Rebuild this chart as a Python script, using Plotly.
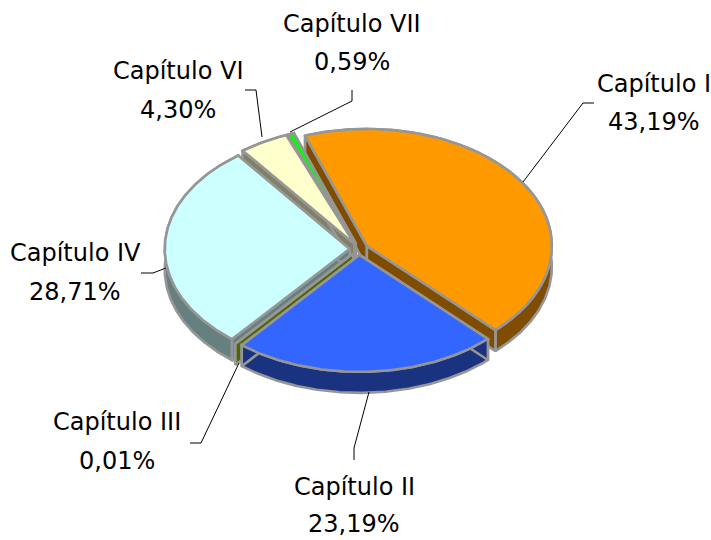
import numpy as np
import plotly.graph_objects as go

chapters = ["Capítulo I", "Capítulo II", "Capítulo III", "Capítulo IV", "Capítulo VI", "Capítulo VII"]
shares = [43.19, 23.19, 0.01, 28.71, 4.30, 0.59]
top_colors = ["#FF9900", "#3366FF", "#99CC00", "#CCFFFF", "#FFFFCC", "#00FF00"]
side_colors = ["#804D00", "#1A3380", "#4D6600", "#668080", "#808066", "#008000"]
paint_order = [0, 5, 4, 3, 2, 1]

label_pos = [(654, 84, 122), (354, 487, 524), (117, 422, 461), (75, 253, 292), (178, 71, 110), (352, 24, 62)]
leaders = [
    [(594, 103), (583, 103), (523, 182)],
    [(354, 460), (354, 448), (369, 392)],
    [(190, 443), (201, 443), (239, 363)],
    [(141, 273), (153, 273), (166, 268)],
    [(245, 90), (256, 90), (262, 137)],
    [(352, 90), (352, 101), (290, 132)],
]

CX, CY, RX, RY, DEPTH, EXPLODE, START = 359, 249, 185, 117, 21, 0.05, -19.5
OUTLINE = "#969696"
OUTLINE_WIDTH = 2.6
FONT = "DejaVu Sans"
FONT_SIZE = 24


def project(cx, cy, ang):
    a = np.radians(ang)
    return cx + RX * np.sin(a), cy - RY * np.cos(a)


fig = go.Figure()


def poly(xs, ys, fill):
    fig.add_trace(go.Scatter(
        x=list(xs) + [xs[0]], y=list(ys) + [ys[0]], mode="lines", fill="toself",
        fillcolor=fill, line=dict(color=OUTLINE, width=OUTLINE_WIDTH), hoverinfo="skip", showlegend=False))


total = 100.0
bounds = START + np.concatenate([[0], np.cumsum(shares)]) * 360 / total
for i in paint_order:
    a0, a1 = bounds[i], bounds[i + 1]
    mid = (a0 + a1) / 2
    ox, oy = project(CX, CY, mid)
    ax = CX + EXPLODE * (ox - CX)
    ay = CY + EXPLODE * (oy - CY)
    arc = np.linspace(a0, a1, max(int(a1 - a0) * 2, 2))
    rx, ry = project(ax, ay, arc)
    # outer wall
    poly(np.r_[rx, rx[::-1]], np.r_[ry, ry[::-1] + DEPTH], side_colors[i])
    # radial walls
    for k in (0, -1):
        poly([ax, rx[k], rx[k], ax], [ay, ry[k], ry[k] + DEPTH, ay + DEPTH], side_colors[i])
    # top
    poly(np.r_[ax, rx], np.r_[ay, ry], top_colors[i])

for pts in leaders:
    fig.add_trace(go.Scatter(
        x=[p[0] for p in pts], y=[p[1] for p in pts], mode="lines",
        line=dict(color="#000000", width=1), hoverinfo="skip", showlegend=False))

for name, val, (x, y1, y2) in zip(chapters, shares, label_pos):
    for txt, y in ((name, y1), (f"{val:.2f}".replace(".", ",") + "%", y2)):
        fig.add_annotation(x=x, y=y, text=txt, showarrow=False, xanchor="center", yanchor="middle",
                           font=dict(family=FONT, size=FONT_SIZE, color="#000000"))

fig.update_layout(
    width=711, height=540, margin=dict(l=0, r=0, t=0, b=0),
    paper_bgcolor="white", plot_bgcolor="white", showlegend=False,
    xaxis=dict(range=[0, 711], visible=False, fixedrange=True),
    yaxis=dict(range=[540, 0], visible=False, fixedrange=True),
)
fig.write_html("out.html", config={"displayModeBar": False},
               post_script="document.body.style.margin='0';document.documentElement.style.overflow='hidden';")
